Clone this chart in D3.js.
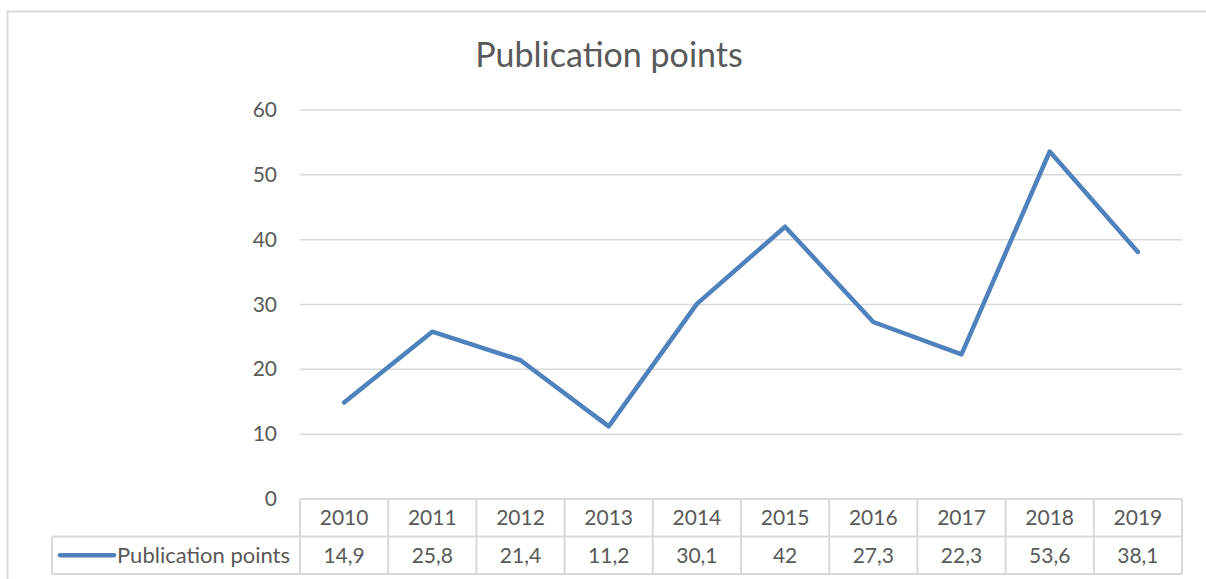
<!DOCTYPE html>
<html>
<head>
<meta charset="utf-8">
<script src="https://cdn.jsdelivr.net/npm/d3@7"></script>
<style>
  body { margin: 0; background: #fff; }
  text { font-family: Lato, "Open Sans", sans-serif; fill: #595959; }
</style>
</head>
<body>
<svg id="chart" width="1206" height="579"></svg>
<script>
// chart data
const years = ["2010", "2011", "2012", "2013", "2014", "2015", "2016", "2017", "2018", "2019"];
const points = [14.9, 25.8, 21.4, 11.2, 30.1, 42, 27.3, 22.3, 53.6, 38.1];
const yTicks = [0, 10, 20, 30, 40, 50, 60];
const seriesName = "Publication points";

const svg = d3.select("#chart");
const plotLeft = 300, plotRight = 1182, plotTop = 110, plotBottom = 499;
const rowH = 37.5;

// outer chart border
svg.append("rect")
  .attr("x", 7.5).attr("y", 11.5)
  .attr("width", 1210).attr("height", 580)
  .attr("fill", "none").attr("stroke", "#d9d9d9").attr("stroke-width", 2);

svg.append("text")
  .attr("x", 609).attr("y", 67)
  .attr("text-anchor", "middle")
  .style("font-size", "34px")
  .text(seriesName);

const x = d3.scaleBand().domain(years).range([plotLeft, plotRight]);
const y = d3.scaleLinear().domain([0, 60]).range([plotBottom, plotTop]);

// gridlines
svg.append("g").selectAll("line")
  .data(yTicks.filter(d => d > 0))
  .enter().append("line")
  .attr("x1", plotLeft).attr("x2", plotRight)
  .attr("y1", d => y(d)).attr("y2", d => y(d))
  .attr("stroke", "#d9d9d9").attr("stroke-width", 1.5);

// y axis labels
svg.append("g").selectAll("text")
  .data(yTicks)
  .enter().append("text")
  .attr("x", 277).attr("y", d => y(d) + 7)
  .attr("text-anchor", "end")
  .style("font-size", "21px")
  .text(d => d);

// line
const line = d3.line()
  .x((d, i) => x(years[i]) + x.bandwidth() / 2)
  .y(d => y(d));

svg.append("path")
  .datum(points)
  .attr("d", line)
  .attr("fill", "none")
  .attr("stroke", "#4f81bd")
  .attr("stroke-width", 4.5)
  .attr("stroke-linejoin", "round")
  .attr("stroke-linecap", "round");

// data table
const grid = svg.append("g").attr("stroke", "#d9d9d9").attr("stroke-width", 2);
grid.append("line").attr("x1", plotLeft).attr("x2", plotRight).attr("y1", plotBottom).attr("y2", plotBottom);
grid.append("line").attr("x1", 52).attr("x2", plotRight).attr("y1", plotBottom + rowH).attr("y2", plotBottom + rowH);
grid.append("line").attr("x1", 52).attr("x2", plotRight).attr("y1", plotBottom + 2 * rowH).attr("y2", plotBottom + 2 * rowH);
grid.append("line").attr("x1", 52).attr("x2", 52).attr("y1", plotBottom + rowH).attr("y2", plotBottom + 2 * rowH);
grid.selectAll(".col")
  .data(years.concat(["end"]))
  .enter().append("line")
  .attr("x1", (d, i) => plotLeft + i * x.bandwidth())
  .attr("x2", (d, i) => plotLeft + i * x.bandwidth())
  .attr("y1", plotBottom).attr("y2", plotBottom + 2 * rowH);

svg.append("g").selectAll("text")
  .data(years)
  .enter().append("text")
  .attr("x", d => x(d) + x.bandwidth() / 2)
  .attr("y", plotBottom + 26)
  .attr("text-anchor", "middle")
  .style("font-size", "21px")
  .text(d => d);

svg.append("g").selectAll("text")
  .data(points)
  .enter().append("text")
  .attr("x", (d, i) => x(years[i]) + x.bandwidth() / 2)
  .attr("y", plotBottom + rowH + 26)
  .attr("text-anchor", "middle")
  .style("font-size", "21px")
  .text(d => String(d).replace(".", ","));

// legend key
svg.append("line")
  .attr("x1", 60).attr("x2", 114)
  .attr("y1", plotBottom + rowH * 1.5).attr("y2", plotBottom + rowH * 1.5)
  .attr("stroke", "#4f81bd").attr("stroke-width", 4.5).attr("stroke-linecap", "round");
svg.append("text")
  .attr("x", 117).attr("y", plotBottom + rowH + 26)
  .style("font-size", "22px")
  .text(seriesName);
</script>
</body>
</html>
